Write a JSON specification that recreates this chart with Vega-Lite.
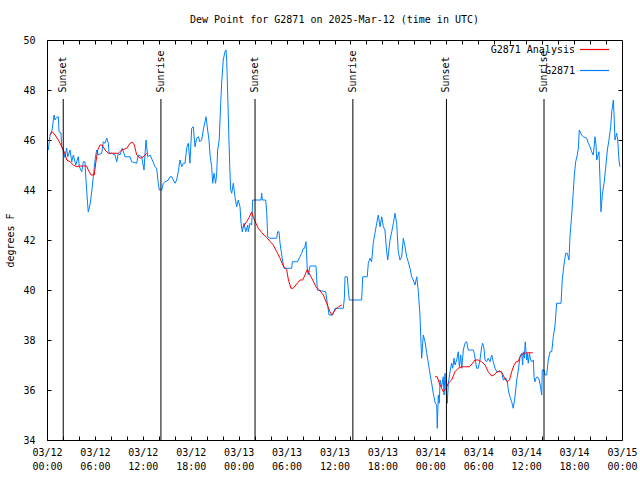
{
  "$schema": "https://vega.github.io/schema/vega-lite/v6.json",
  "width": 575,
  "height": 400,
  "autosize": {"type": "none"},
  "padding": {"left": 47, "top": 40, "right": 18, "bottom": 40},
  "background": "white",
  "title": {"text": "Dew Point for G2871 on 2025-Mar-12 (time in UTC)", "font": "DejaVu Sans Mono", "fontSize": 10, "fontWeight": "normal", "color": "black", "offset": 9, "anchor": "middle"},
  "config": {
    "view": {"stroke": "black", "strokeWidth": 1},
    "axis": {"labelFont": "DejaVu Sans Mono", "labelFontSize": 10, "labelColor": "black", "titleFont": "DejaVu Sans Mono", "titleFontSize": 10, "titleFontWeight": "normal", "titleColor": "black", "tickColor": "black", "domain": false, "grid": false, "tickSize": -4, "labelOverlap": false, "labelFlush": false},
    "legend": {"orient": "none", "legendX": 532, "legendY": -6, "padding": 0, "symbolType": "stroke", "symbolSize": 841, "symbolStrokeWidth": 1.2, "labelFont": "DejaVu Sans Mono", "labelFontSize": 10, "labelColor": "black", "labelAlign": "right", "labelOffset": -35, "rowPadding": -7}
  },
  "datasets": {
    "obs": [
      {"t":"2025-03-12T00:10Z","v":45.6},{"t":"2025-03-12T00:23Z","v":46.2},{"t":"2025-03-12T00:38Z","v":46.4},{"t":"2025-03-12T00:53Z","v":47.0},{"t":"2025-03-12T01:00Z","v":46.8},{"t":"2025-03-12T01:11Z","v":46.9},{"t":"2025-03-12T01:25Z","v":46.93},{"t":"2025-03-12T01:30Z","v":46.33},{"t":"2025-03-12T01:45Z","v":46.28},{"t":"2025-03-12T01:50Z","v":45.73},
      {"t":"2025-03-12T02:02Z","v":45.6},{"t":"2025-03-12T02:15Z","v":45.3},{"t":"2025-03-12T02:28Z","v":45.68},{"t":"2025-03-12T02:36Z","v":45.33},{"t":"2025-03-12T02:53Z","v":45.6},{"t":"2025-03-12T03:06Z","v":45.13},{"t":"2025-03-12T03:18Z","v":45.4},{"t":"2025-03-12T03:36Z","v":45.0},{"t":"2025-03-12T03:55Z","v":45.33},{"t":"2025-03-12T04:03Z","v":44.93},
      {"t":"2025-03-12T04:21Z","v":44.73},{"t":"2025-03-12T04:33Z","v":45.13},{"t":"2025-03-12T04:45Z","v":45.13},{"t":"2025-03-12T04:53Z","v":44.4},{"t":"2025-03-12T05:03Z","v":43.6},{"t":"2025-03-12T05:10Z","v":43.13},{"t":"2025-03-12T05:23Z","v":43.4},{"t":"2025-03-12T05:36Z","v":43.93},{"t":"2025-03-12T05:48Z","v":44.53},{"t":"2025-03-12T06:01Z","v":45.2},
      {"t":"2025-03-12T06:13Z","v":45.6},{"t":"2025-03-12T06:25Z","v":45.4},{"t":"2025-03-12T06:51Z","v":45.47},{"t":"2025-03-12T07:03Z","v":45.93},{"t":"2025-03-12T07:16Z","v":45.87},{"t":"2025-03-12T07:29Z","v":46.07},{"t":"2025-03-12T07:41Z","v":45.87},{"t":"2025-03-12T07:46Z","v":45.47},{"t":"2025-03-12T08:06Z","v":45.47},{"t":"2025-03-12T08:31Z","v":45.4},
      {"t":"2025-03-12T08:44Z","v":45.13},{"t":"2025-03-12T08:56Z","v":45.47},{"t":"2025-03-12T09:08Z","v":45.4},{"t":"2025-03-12T09:26Z","v":45.67},{"t":"2025-03-12T09:46Z","v":45.33},{"t":"2025-03-12T10:24Z","v":45.33},{"t":"2025-03-12T10:36Z","v":45.13},{"t":"2025-03-12T11:14Z","v":45.07},{"t":"2025-03-12T11:26Z","v":45.4},{"t":"2025-03-12T11:51Z","v":45.33},
      {"t":"2025-03-12T12:09Z","v":44.8},{"t":"2025-03-12T12:16Z","v":45.4},{"t":"2025-03-12T12:24Z","v":46.0},{"t":"2025-03-12T12:37Z","v":45.33},{"t":"2025-03-12T12:54Z","v":45.4},{"t":"2025-03-12T13:11Z","v":45.2},{"t":"2025-03-12T13:31Z","v":44.93},{"t":"2025-03-12T13:44Z","v":44.87},{"t":"2025-03-12T13:56Z","v":44.27},{"t":"2025-03-12T14:04Z","v":44.0},
      {"t":"2025-03-12T14:22Z","v":44.0},{"t":"2025-03-12T14:34Z","v":44.27},{"t":"2025-03-12T14:47Z","v":44.33},{"t":"2025-03-12T15:11Z","v":44.4},{"t":"2025-03-12T15:24Z","v":44.53},{"t":"2025-03-12T15:37Z","v":44.53},{"t":"2025-03-12T15:49Z","v":44.4},{"t":"2025-03-12T16:02Z","v":44.27},{"t":"2025-03-12T16:14Z","v":44.4},{"t":"2025-03-12T16:26Z","v":44.73},
      {"t":"2025-03-12T16:39Z","v":45.2},{"t":"2025-03-12T16:52Z","v":44.93},{"t":"2025-03-12T17:04Z","v":45.07},{"t":"2025-03-12T17:17Z","v":45.07},{"t":"2025-03-12T17:30Z","v":45.7},{"t":"2025-03-12T17:42Z","v":45.87},{"t":"2025-03-12T17:54Z","v":45.07},{"t":"2025-03-12T18:07Z","v":46.47},{"t":"2025-03-12T18:19Z","v":46.53},{"t":"2025-03-12T18:32Z","v":45.73},
      {"t":"2025-03-12T18:45Z","v":46.07},{"t":"2025-03-12T18:57Z","v":46.13},{"t":"2025-03-12T19:09Z","v":45.93},{"t":"2025-03-12T19:22Z","v":46.0},{"t":"2025-03-12T19:34Z","v":46.4},{"t":"2025-03-12T19:47Z","v":46.73},{"t":"2025-03-12T19:55Z","v":46.93},{"t":"2025-03-12T20:07Z","v":46.4},{"t":"2025-03-12T20:17Z","v":46.0},{"t":"2025-03-12T20:25Z","v":45.4},
      {"t":"2025-03-12T20:37Z","v":44.93},{"t":"2025-03-12T20:45Z","v":44.27},{"t":"2025-03-12T20:55Z","v":44.67},{"t":"2025-03-12T21:07Z","v":44.27},{"t":"2025-03-12T21:15Z","v":44.67},{"t":"2025-03-12T21:22Z","v":45.6},{"t":"2025-03-12T21:34Z","v":46.0},{"t":"2025-03-12T21:45Z","v":47.47},{"t":"2025-03-12T21:52Z","v":48.27},{"t":"2025-03-12T22:04Z","v":49.2},
      {"t":"2025-03-12T22:17Z","v":49.53},{"t":"2025-03-12T22:25Z","v":49.6},{"t":"2025-03-12T22:30Z","v":49.2},{"t":"2025-03-12T22:38Z","v":47.73},{"t":"2025-03-12T22:45Z","v":46.4},{"t":"2025-03-12T22:53Z","v":44.93},{"t":"2025-03-12T23:00Z","v":44.0},{"t":"2025-03-12T23:08Z","v":43.87},{"t":"2025-03-12T23:20Z","v":44.27},{"t":"2025-03-12T23:32Z","v":43.73},
      {"t":"2025-03-12T23:45Z","v":43.33},{"t":"2025-03-12T23:57Z","v":43.6},{"t":"2025-03-13T00:10Z","v":43.33},{"t":"2025-03-13T00:18Z","v":42.67},{"t":"2025-03-13T00:27Z","v":42.33},{"t":"2025-03-13T00:40Z","v":42.67},{"t":"2025-03-13T00:53Z","v":42.33},{"t":"2025-03-13T01:08Z","v":42.6},{"t":"2025-03-13T01:12Z","v":42.33},{"t":"2025-03-13T01:25Z","v":42.67},
      {"t":"2025-03-13T01:38Z","v":42.6},{"t":"2025-03-13T01:45Z","v":43.6},{"t":"2025-03-13T02:48Z","v":43.6},{"t":"2025-03-13T02:53Z","v":43.87},{"t":"2025-03-13T02:58Z","v":43.6},{"t":"2025-03-13T03:23Z","v":43.6},{"t":"2025-03-13T03:31Z","v":43.07},{"t":"2025-03-13T03:38Z","v":42.13},{"t":"2025-03-13T03:55Z","v":42.07},{"t":"2025-03-13T04:46Z","v":42.07},
      {"t":"2025-03-13T04:53Z","v":42.33},{"t":"2025-03-13T05:03Z","v":42.33},{"t":"2025-03-13T05:11Z","v":41.87},{"t":"2025-03-13T05:18Z","v":41.6},{"t":"2025-03-13T05:29Z","v":41.2},{"t":"2025-03-13T05:41Z","v":40.87},{"t":"2025-03-13T06:38Z","v":40.87},{"t":"2025-03-13T06:43Z","v":41.13},{"t":"2025-03-13T07:23Z","v":41.13},{"t":"2025-03-13T07:28Z","v":41.2},
      {"t":"2025-03-13T07:41Z","v":41.33},{"t":"2025-03-13T07:54Z","v":41.47},{"t":"2025-03-13T08:06Z","v":41.67},{"t":"2025-03-13T08:15Z","v":41.67},{"t":"2025-03-13T08:26Z","v":41.93},{"t":"2025-03-13T08:36Z","v":40.8},{"t":"2025-03-13T08:43Z","v":40.6},{"t":"2025-03-13T08:56Z","v":40.96},{"t":"2025-03-13T09:41Z","v":40.96},{"t":"2025-03-13T09:51Z","v":40.0},
      {"t":"2025-03-13T10:54Z","v":39.93},{"t":"2025-03-13T11:06Z","v":39.47},{"t":"2025-03-13T11:19Z","v":39.0},{"t":"2025-03-13T11:46Z","v":39.0},{"t":"2025-03-13T12:04Z","v":39.27},{"t":"2025-03-13T13:06Z","v":39.27},{"t":"2025-03-13T13:14Z","v":39.67},{"t":"2025-03-13T13:19Z","v":40.53},{"t":"2025-03-13T13:36Z","v":40.53},{"t":"2025-03-13T13:44Z","v":40.0},
      {"t":"2025-03-13T13:51Z","v":39.6},{"t":"2025-03-13T15:24Z","v":39.6},{"t":"2025-03-13T15:32Z","v":40.53},{"t":"2025-03-13T16:06Z","v":40.53},{"t":"2025-03-13T16:14Z","v":41.07},{"t":"2025-03-13T16:27Z","v":41.27},{"t":"2025-03-13T16:39Z","v":41.13},{"t":"2025-03-13T16:51Z","v":41.87},{"t":"2025-03-13T17:04Z","v":42.27},{"t":"2025-03-13T17:17Z","v":42.67},
      {"t":"2025-03-13T17:29Z","v":43.0},{"t":"2025-03-13T17:42Z","v":42.53},{"t":"2025-03-13T17:55Z","v":42.93},{"t":"2025-03-13T18:07Z","v":42.53},{"t":"2025-03-13T18:19Z","v":42.4},{"t":"2025-03-13T18:32Z","v":41.53},{"t":"2025-03-13T18:40Z","v":41.2},{"t":"2025-03-13T18:57Z","v":42.0},{"t":"2025-03-13T19:10Z","v":42.33},{"t":"2025-03-13T19:22Z","v":42.67},
      {"t":"2025-03-13T19:35Z","v":43.07},{"t":"2025-03-13T19:47Z","v":42.67},{"t":"2025-03-13T19:59Z","v":41.53},{"t":"2025-03-13T20:12Z","v":41.2},{"t":"2025-03-13T20:25Z","v":41.33},{"t":"2025-03-13T20:37Z","v":42.07},{"t":"2025-03-13T20:50Z","v":41.73},{"t":"2025-03-13T21:02Z","v":41.33},{"t":"2025-03-13T21:14Z","v":41.13},{"t":"2025-03-13T21:27Z","v":40.87},
      {"t":"2025-03-13T21:40Z","v":40.53},{"t":"2025-03-13T21:52Z","v":40.4},{"t":"2025-03-13T22:05Z","v":40.2},{"t":"2025-03-13T22:18Z","v":40.53},{"t":"2025-03-13T22:30Z","v":39.93},{"t":"2025-03-13T22:42Z","v":39.0},{"t":"2025-03-13T22:50Z","v":37.87},{"t":"2025-03-13T22:55Z","v":37.27},{"t":"2025-03-13T23:07Z","v":38.2},{"t":"2025-03-13T23:20Z","v":37.93},
      {"t":"2025-03-13T23:33Z","v":37.47},{"t":"2025-03-13T23:45Z","v":37.07},{"t":"2025-03-13T23:57Z","v":36.67},{"t":"2025-03-14T00:10Z","v":36.27},{"t":"2025-03-14T00:22Z","v":35.87},{"t":"2025-03-14T00:37Z","v":35.47},{"t":"2025-03-14T00:48Z","v":35.4},{"t":"2025-03-14T00:52Z","v":34.47},{"t":"2025-03-14T01:00Z","v":35.8},{"t":"2025-03-14T01:07Z","v":35.47},
      {"t":"2025-03-14T01:13Z","v":36.4},{"t":"2025-03-14T01:25Z","v":36.13},{"t":"2025-03-14T01:37Z","v":36.53},{"t":"2025-03-14T01:43Z","v":35.8},{"t":"2025-03-14T01:50Z","v":36.67},{"t":"2025-03-14T02:01Z","v":35.8},{"t":"2025-03-14T02:07Z","v":35.47},{"t":"2025-03-14T02:15Z","v":36.27},{"t":"2025-03-14T02:28Z","v":36.73},{"t":"2025-03-14T02:40Z","v":37.07},
      {"t":"2025-03-14T02:48Z","v":36.87},{"t":"2025-03-14T02:58Z","v":37.27},{"t":"2025-03-14T03:05Z","v":37.0},{"t":"2025-03-14T03:18Z","v":37.2},{"t":"2025-03-14T03:30Z","v":37.53},{"t":"2025-03-14T03:38Z","v":36.93},{"t":"2025-03-14T03:48Z","v":37.4},{"t":"2025-03-14T03:56Z","v":36.87},{"t":"2025-03-14T04:08Z","v":37.6},{"t":"2025-03-14T04:20Z","v":37.87},
      {"t":"2025-03-14T04:33Z","v":37.93},{"t":"2025-03-14T04:45Z","v":37.6},{"t":"2025-03-14T05:23Z","v":37.6},{"t":"2025-03-14T05:30Z","v":37.47},{"t":"2025-03-14T05:48Z","v":36.87},{"t":"2025-03-14T06:00Z","v":36.87},{"t":"2025-03-14T06:13Z","v":37.2},{"t":"2025-03-14T06:26Z","v":37.73},{"t":"2025-03-14T06:33Z","v":37.87},{"t":"2025-03-14T06:43Z","v":37.67},
      {"t":"2025-03-14T06:51Z","v":37.2},{"t":"2025-03-14T07:03Z","v":37.13},{"t":"2025-03-14T07:15Z","v":37.27},{"t":"2025-03-14T07:28Z","v":37.13},{"t":"2025-03-14T07:41Z","v":37.4},{"t":"2025-03-14T07:53Z","v":37.13},{"t":"2025-03-14T08:06Z","v":36.87},{"t":"2025-03-14T08:19Z","v":36.73},{"t":"2025-03-14T08:56Z","v":36.73},{"t":"2025-03-14T09:08Z","v":36.4},
      {"t":"2025-03-14T09:28Z","v":36.47},{"t":"2025-03-14T09:38Z","v":36.33},{"t":"2025-03-14T09:46Z","v":36.0},{"t":"2025-03-14T09:58Z","v":35.73},{"t":"2025-03-14T10:11Z","v":35.53},{"t":"2025-03-14T10:23Z","v":35.27},{"t":"2025-03-14T10:36Z","v":35.73},{"t":"2025-03-14T10:49Z","v":36.4},{"t":"2025-03-14T11:01Z","v":36.8},{"t":"2025-03-14T11:14Z","v":37.33},
      {"t":"2025-03-14T11:26Z","v":37.47},{"t":"2025-03-14T11:34Z","v":37.0},{"t":"2025-03-14T11:38Z","v":37.53},{"t":"2025-03-14T11:46Z","v":37.27},{"t":"2025-03-14T11:53Z","v":37.93},{"t":"2025-03-14T12:04Z","v":37.2},{"t":"2025-03-14T12:08Z","v":37.47},{"t":"2025-03-14T12:16Z","v":37.07},{"t":"2025-03-14T12:24Z","v":37.47},{"t":"2025-03-14T12:34Z","v":37.2},
      {"t":"2025-03-14T12:42Z","v":37.13},{"t":"2025-03-14T12:54Z","v":37.2},{"t":"2025-03-14T12:59Z","v":36.53},{"t":"2025-03-14T13:06Z","v":36.33},{"t":"2025-03-14T13:14Z","v":36.47},{"t":"2025-03-14T13:24Z","v":36.53},{"t":"2025-03-14T13:39Z","v":36.4},{"t":"2025-03-14T13:49Z","v":36.07},{"t":"2025-03-14T13:57Z","v":35.8},{"t":"2025-03-14T14:01Z","v":36.8},
      {"t":"2025-03-14T14:14Z","v":36.8},{"t":"2025-03-14T14:21Z","v":36.6},{"t":"2025-03-14T14:34Z","v":36.6},{"t":"2025-03-14T14:46Z","v":37.2},{"t":"2025-03-14T14:59Z","v":37.53},{"t":"2025-03-14T15:12Z","v":37.53},{"t":"2025-03-14T15:24Z","v":38.13},{"t":"2025-03-14T15:37Z","v":38.6},{"t":"2025-03-14T15:49Z","v":39.47},{"t":"2025-03-14T16:22Z","v":39.47},
      {"t":"2025-03-14T16:31Z","v":40.4},{"t":"2025-03-14T16:44Z","v":41.0},{"t":"2025-03-14T16:57Z","v":41.47},{"t":"2025-03-14T17:09Z","v":41.47},{"t":"2025-03-14T17:22Z","v":41.2},{"t":"2025-03-14T17:29Z","v":42.13},{"t":"2025-03-14T17:42Z","v":43.0},{"t":"2025-03-14T17:54Z","v":43.93},{"t":"2025-03-14T18:02Z","v":44.6},{"t":"2025-03-14T18:12Z","v":45.13},
      {"t":"2025-03-14T18:24Z","v":45.4},{"t":"2025-03-14T18:32Z","v":45.67},{"t":"2025-03-14T18:39Z","v":46.4},{"t":"2025-03-14T18:57Z","v":46.2},{"t":"2025-03-14T19:09Z","v":46.13},{"t":"2025-03-14T19:35Z","v":46.07},{"t":"2025-03-14T19:47Z","v":45.87},{"t":"2025-03-14T20:00Z","v":45.73},{"t":"2025-03-14T20:12Z","v":45.53},{"t":"2025-03-14T20:24Z","v":45.4},
      {"t":"2025-03-14T20:32Z","v":45.8},{"t":"2025-03-14T20:37Z","v":46.13},{"t":"2025-03-14T20:45Z","v":45.8},{"t":"2025-03-14T20:50Z","v":45.2},{"t":"2025-03-14T21:00Z","v":45.4},{"t":"2025-03-14T21:07Z","v":45.53},{"t":"2025-03-14T21:15Z","v":44.4},{"t":"2025-03-14T21:22Z","v":43.13},{"t":"2025-03-14T21:32Z","v":43.8},{"t":"2025-03-14T21:45Z","v":44.27},
      {"t":"2025-03-14T21:57Z","v":44.87},{"t":"2025-03-14T22:10Z","v":45.6},{"t":"2025-03-14T22:22Z","v":46.0},{"t":"2025-03-14T22:35Z","v":46.53},{"t":"2025-03-14T22:43Z","v":47.13},{"t":"2025-03-14T22:55Z","v":47.6},{"t":"2025-03-14T23:02Z","v":46.8},{"t":"2025-03-14T23:07Z","v":46.0},{"t":"2025-03-14T23:20Z","v":46.27},{"t":"2025-03-14T23:28Z","v":46.0},
      {"t":"2025-03-14T23:37Z","v":45.2},{"t":"2025-03-14T23:45Z","v":44.93}
    ],
    "ana": [
      {"seg":1,"t":"2025-03-12T00:23Z","v":46.2},{"seg":1,"t":"2025-03-12T00:40Z","v":46.33},{"seg":1,"t":"2025-03-12T01:00Z","v":46.2},{"seg":1,"t":"2025-03-12T01:25Z","v":46.0},{"seg":1,"t":"2025-03-12T01:45Z","v":45.8},{"seg":1,"t":"2025-03-12T02:02Z","v":45.6},{"seg":1,"t":"2025-03-12T02:15Z","v":45.47},{"seg":1,"t":"2025-03-12T02:28Z","v":45.2},{"seg":1,"t":"2025-03-12T02:53Z","v":45.13},{"seg":1,"t":"2025-03-12T03:18Z","v":45.0},
      {"seg":1,"t":"2025-03-12T03:43Z","v":44.93},{"seg":1,"t":"2025-03-12T04:08Z","v":44.96},{"seg":1,"t":"2025-03-12T04:33Z","v":44.96},{"seg":1,"t":"2025-03-12T04:58Z","v":44.96},{"seg":1,"t":"2025-03-12T05:10Z","v":44.8},{"seg":1,"t":"2025-03-12T05:31Z","v":44.6},{"seg":1,"t":"2025-03-12T05:55Z","v":44.6},{"seg":1,"t":"2025-03-12T06:06Z","v":45.07},{"seg":1,"t":"2025-03-12T06:21Z","v":45.6},{"seg":1,"t":"2025-03-12T06:38Z","v":45.8},
      {"seg":1,"t":"2025-03-12T06:55Z","v":45.8},{"seg":1,"t":"2025-03-12T07:16Z","v":45.6},{"seg":1,"t":"2025-03-12T07:41Z","v":45.47},{"seg":1,"t":"2025-03-12T08:06Z","v":45.47},{"seg":1,"t":"2025-03-12T08:56Z","v":45.47},{"seg":1,"t":"2025-03-12T09:21Z","v":45.6},{"seg":1,"t":"2025-03-12T09:59Z","v":45.67},{"seg":1,"t":"2025-03-12T10:24Z","v":45.87},{"seg":1,"t":"2025-03-12T10:41Z","v":45.91},{"seg":1,"t":"2025-03-12T10:56Z","v":45.8},
      {"seg":1,"t":"2025-03-12T11:14Z","v":45.4},{"seg":1,"t":"2025-03-12T11:39Z","v":45.27},{"seg":1,"t":"2025-03-12T12:03Z","v":45.33},{"seg":1,"t":"2025-03-12T12:29Z","v":45.47},
      {"seg":2,"t":"2025-03-13T00:32Z","v":42.5},{"seg":2,"t":"2025-03-13T01:00Z","v":42.73},{"seg":2,"t":"2025-03-13T01:18Z","v":42.9},{"seg":2,"t":"2025-03-13T01:38Z","v":43.12},{"seg":2,"t":"2025-03-13T01:51Z","v":42.9},{"seg":2,"t":"2025-03-13T02:03Z","v":42.75},{"seg":2,"t":"2025-03-13T02:27Z","v":42.47},{"seg":2,"t":"2025-03-13T02:53Z","v":42.3},{"seg":2,"t":"2025-03-13T03:10Z","v":42.2},{"seg":2,"t":"2025-03-13T03:31Z","v":42.1},
      {"seg":2,"t":"2025-03-13T03:55Z","v":41.95},{"seg":2,"t":"2025-03-13T04:20Z","v":41.8},{"seg":2,"t":"2025-03-13T04:46Z","v":41.53},{"seg":2,"t":"2025-03-13T05:11Z","v":41.27},{"seg":2,"t":"2025-03-13T05:35Z","v":40.96},{"seg":2,"t":"2025-03-13T06:01Z","v":40.8},{"seg":2,"t":"2025-03-13T06:14Z","v":40.4},{"seg":2,"t":"2025-03-13T06:33Z","v":40.07},{"seg":2,"t":"2025-03-13T06:50Z","v":40.07},{"seg":2,"t":"2025-03-13T07:16Z","v":40.24},
      {"seg":2,"t":"2025-03-13T07:41Z","v":40.4},{"seg":2,"t":"2025-03-13T08:01Z","v":40.4},{"seg":2,"t":"2025-03-13T08:18Z","v":40.6},{"seg":2,"t":"2025-03-13T08:36Z","v":40.83},{"seg":2,"t":"2025-03-13T08:56Z","v":40.6},{"seg":2,"t":"2025-03-13T09:16Z","v":40.4},{"seg":2,"t":"2025-03-13T09:41Z","v":40.13},{"seg":2,"t":"2025-03-13T10:11Z","v":39.97},{"seg":2,"t":"2025-03-13T10:36Z","v":39.8},{"seg":2,"t":"2025-03-13T11:01Z","v":39.47},
      {"seg":2,"t":"2025-03-13T11:26Z","v":39.13},{"seg":2,"t":"2025-03-13T11:39Z","v":39.0},{"seg":2,"t":"2025-03-13T12:04Z","v":39.2},{"seg":2,"t":"2025-03-13T12:29Z","v":39.33},{"seg":2,"t":"2025-03-13T12:54Z","v":39.4},
      {"seg":3,"t":"2025-03-14T00:35Z","v":36.53},{"seg":3,"t":"2025-03-14T00:52Z","v":36.53},{"seg":3,"t":"2025-03-14T01:07Z","v":36.27},{"seg":3,"t":"2025-03-14T01:25Z","v":36.07},{"seg":3,"t":"2025-03-14T01:37Z","v":35.93},{"seg":3,"t":"2025-03-14T01:58Z","v":36.07},{"seg":3,"t":"2025-03-14T02:15Z","v":36.27},{"seg":3,"t":"2025-03-14T02:40Z","v":36.4},{"seg":3,"t":"2025-03-14T03:05Z","v":36.73},{"seg":3,"t":"2025-03-14T03:30Z","v":36.87},
      {"seg":3,"t":"2025-03-14T03:56Z","v":36.93},{"seg":3,"t":"2025-03-14T04:20Z","v":36.93},{"seg":3,"t":"2025-03-14T04:53Z","v":36.93},{"seg":3,"t":"2025-03-14T05:18Z","v":37.07},{"seg":3,"t":"2025-03-14T05:36Z","v":37.2},{"seg":3,"t":"2025-03-14T06:00Z","v":37.2},{"seg":3,"t":"2025-03-14T06:26Z","v":37.13},{"seg":3,"t":"2025-03-14T06:51Z","v":37.0},{"seg":3,"t":"2025-03-14T07:15Z","v":36.73},{"seg":3,"t":"2025-03-14T07:41Z","v":36.56},
      {"seg":3,"t":"2025-03-14T07:58Z","v":36.6},{"seg":3,"t":"2025-03-14T08:23Z","v":36.73},{"seg":3,"t":"2025-03-14T08:43Z","v":36.77},{"seg":3,"t":"2025-03-14T09:02Z","v":36.65},{"seg":3,"t":"2025-03-14T09:21Z","v":36.44},{"seg":3,"t":"2025-03-14T09:38Z","v":36.33},{"seg":3,"t":"2025-03-14T09:55Z","v":36.4},{"seg":3,"t":"2025-03-14T10:11Z","v":36.73},{"seg":3,"t":"2025-03-14T10:29Z","v":37.0},{"seg":3,"t":"2025-03-14T10:44Z","v":37.13},
      {"seg":3,"t":"2025-03-14T10:59Z","v":37.13},{"seg":3,"t":"2025-03-14T11:14Z","v":37.33},{"seg":3,"t":"2025-03-14T11:36Z","v":37.45},{"seg":3,"t":"2025-03-14T12:04Z","v":37.49},{"seg":3,"t":"2025-03-14T12:49Z","v":37.49}
    ],
    "sun": [
      {"t":"2025-03-12T02:02Z","label":"Sunset"},
      {"t":"2025-03-12T14:16Z","label":"Sunrise"},
      {"t":"2025-03-13T02:03Z","label":"Sunset"},
      {"t":"2025-03-13T14:18Z","label":"Sunrise"},
      {"t":"2025-03-14T02:01Z","label":"Sunset"},
      {"t":"2025-03-14T14:14Z","label":"Sunrise"}
    ]
  },
  "resolve": {"axis": {"x": "independent", "y": "independent"}},
  "layer": [
    {
      "data": {"name": "obs"},
      "mark": {"type": "line", "strokeWidth": 1, "interpolate": "linear"},
      "encoding": {
        "x": {"field": "t", "type": "temporal", "scale": {"type": "utc", "domain": [{"year": 2025, "month": 3, "date": 12, "utc": true}, {"year": 2025, "month": 3, "date": 15, "utc": true}]},
          "axis": {"orient": "bottom", "title": null, "values": [
            {"year":2025,"month":3,"date":12,"hours":0,"utc":true},{"year":2025,"month":3,"date":12,"hours":2,"utc":true},{"year":2025,"month":3,"date":12,"hours":4,"utc":true},{"year":2025,"month":3,"date":12,"hours":6,"utc":true},{"year":2025,"month":3,"date":12,"hours":8,"utc":true},{"year":2025,"month":3,"date":12,"hours":10,"utc":true},{"year":2025,"month":3,"date":12,"hours":12,"utc":true},{"year":2025,"month":3,"date":12,"hours":14,"utc":true},{"year":2025,"month":3,"date":12,"hours":16,"utc":true},{"year":2025,"month":3,"date":12,"hours":18,"utc":true},{"year":2025,"month":3,"date":12,"hours":20,"utc":true},{"year":2025,"month":3,"date":12,"hours":22,"utc":true},
            {"year":2025,"month":3,"date":13,"hours":0,"utc":true},{"year":2025,"month":3,"date":13,"hours":2,"utc":true},{"year":2025,"month":3,"date":13,"hours":4,"utc":true},{"year":2025,"month":3,"date":13,"hours":6,"utc":true},{"year":2025,"month":3,"date":13,"hours":8,"utc":true},{"year":2025,"month":3,"date":13,"hours":10,"utc":true},{"year":2025,"month":3,"date":13,"hours":12,"utc":true},{"year":2025,"month":3,"date":13,"hours":14,"utc":true},{"year":2025,"month":3,"date":13,"hours":16,"utc":true},{"year":2025,"month":3,"date":13,"hours":18,"utc":true},{"year":2025,"month":3,"date":13,"hours":20,"utc":true},{"year":2025,"month":3,"date":13,"hours":22,"utc":true},
            {"year":2025,"month":3,"date":14,"hours":0,"utc":true},{"year":2025,"month":3,"date":14,"hours":2,"utc":true},{"year":2025,"month":3,"date":14,"hours":4,"utc":true},{"year":2025,"month":3,"date":14,"hours":6,"utc":true},{"year":2025,"month":3,"date":14,"hours":8,"utc":true},{"year":2025,"month":3,"date":14,"hours":10,"utc":true},{"year":2025,"month":3,"date":14,"hours":12,"utc":true},{"year":2025,"month":3,"date":14,"hours":14,"utc":true},{"year":2025,"month":3,"date":14,"hours":16,"utc":true},{"year":2025,"month":3,"date":14,"hours":18,"utc":true},{"year":2025,"month":3,"date":14,"hours":20,"utc":true},{"year":2025,"month":3,"date":14,"hours":22,"utc":true},
            {"year":2025,"month":3,"date":15,"hours":0,"utc":true}],
            "labelPadding": 11, "labelExpr": "utchours(datum.value) % 6 == 0 ? [utcFormat(datum.value, '%m/%d'), utcFormat(datum.value, '%H:%M')] : ''", "labelLineHeight": 14}},
        "y": {"field": "v", "type": "quantitative", "scale": {"domain": [34, 50], "nice": false, "zero": false},
          "axis": {"orient": "left", "title": "degrees F", "values": [34, 36, 38, 40, 42, 44, 46, 48, 50], "labelPadding": 16, "titleX": -37, "titleY": 200, "titleAngle": 270, "titleAlign": "center", "titleBaseline": "middle"}},
        "color": {"datum": "G2871", "type": "nominal", "scale": {"domain": ["G2871 Analysis", "G2871"], "range": ["#ff0000", "#0080ff"]}, "legend": {"title": null}}
      }
    },
    {
      "data": {"name": "ana"},
      "mark": {"type": "line", "strokeWidth": 1},
      "encoding": {
        "x": {"field": "t", "type": "temporal", "axis": {"orient": "top", "title": null, "labels": false, "values": [
            {"year":2025,"month":3,"date":12,"hours":2,"utc":true},{"year":2025,"month":3,"date":12,"hours":4,"utc":true},{"year":2025,"month":3,"date":12,"hours":6,"utc":true},{"year":2025,"month":3,"date":12,"hours":8,"utc":true},{"year":2025,"month":3,"date":12,"hours":10,"utc":true},{"year":2025,"month":3,"date":12,"hours":12,"utc":true},{"year":2025,"month":3,"date":12,"hours":14,"utc":true},{"year":2025,"month":3,"date":12,"hours":16,"utc":true},{"year":2025,"month":3,"date":12,"hours":18,"utc":true},{"year":2025,"month":3,"date":12,"hours":20,"utc":true},{"year":2025,"month":3,"date":12,"hours":22,"utc":true},
            {"year":2025,"month":3,"date":13,"hours":0,"utc":true},{"year":2025,"month":3,"date":13,"hours":2,"utc":true},{"year":2025,"month":3,"date":13,"hours":4,"utc":true},{"year":2025,"month":3,"date":13,"hours":6,"utc":true},{"year":2025,"month":3,"date":13,"hours":8,"utc":true},{"year":2025,"month":3,"date":13,"hours":10,"utc":true},{"year":2025,"month":3,"date":13,"hours":12,"utc":true},{"year":2025,"month":3,"date":13,"hours":14,"utc":true},{"year":2025,"month":3,"date":13,"hours":16,"utc":true},{"year":2025,"month":3,"date":13,"hours":18,"utc":true},{"year":2025,"month":3,"date":13,"hours":20,"utc":true},{"year":2025,"month":3,"date":13,"hours":22,"utc":true},
            {"year":2025,"month":3,"date":14,"hours":0,"utc":true},{"year":2025,"month":3,"date":14,"hours":2,"utc":true},{"year":2025,"month":3,"date":14,"hours":4,"utc":true},{"year":2025,"month":3,"date":14,"hours":6,"utc":true},{"year":2025,"month":3,"date":14,"hours":8,"utc":true},{"year":2025,"month":3,"date":14,"hours":10,"utc":true},{"year":2025,"month":3,"date":14,"hours":12,"utc":true},{"year":2025,"month":3,"date":14,"hours":14,"utc":true},{"year":2025,"month":3,"date":14,"hours":16,"utc":true},{"year":2025,"month":3,"date":14,"hours":18,"utc":true},{"year":2025,"month":3,"date":14,"hours":20,"utc":true},{"year":2025,"month":3,"date":14,"hours":22,"utc":true}]}},
        "y": {"field": "v", "type": "quantitative", "axis": {"orient": "right", "title": null, "labels": false, "values": [36, 38, 40, 42, 44, 46, 48]}},
        "detail": {"field": "seg", "type": "nominal"},
        "color": {"datum": "G2871 Analysis", "type": "nominal"}
      }
    },
    {
      "data": {"name": "sun"},
      "mark": {"type": "rule", "color": "black", "strokeWidth": 1},
      "encoding": {
        "x": {"field": "t", "type": "temporal", "axis": null},
        "y": {"datum": 34, "type": "quantitative", "axis": null},
        "y2": {"datum": 47.64}
      }
    },
    {
      "data": {"name": "sun"},
      "mark": {"type": "text", "angle": 270, "align": "left", "baseline": "middle", "font": "DejaVu Sans Mono", "fontSize": 10, "color": "black"},
      "encoding": {
        "x": {"field": "t", "type": "temporal", "axis": null},
        "y": {"datum": 47.9, "type": "quantitative", "axis": null},
        "text": {"field": "label"}
      }
    }
  ]
}
